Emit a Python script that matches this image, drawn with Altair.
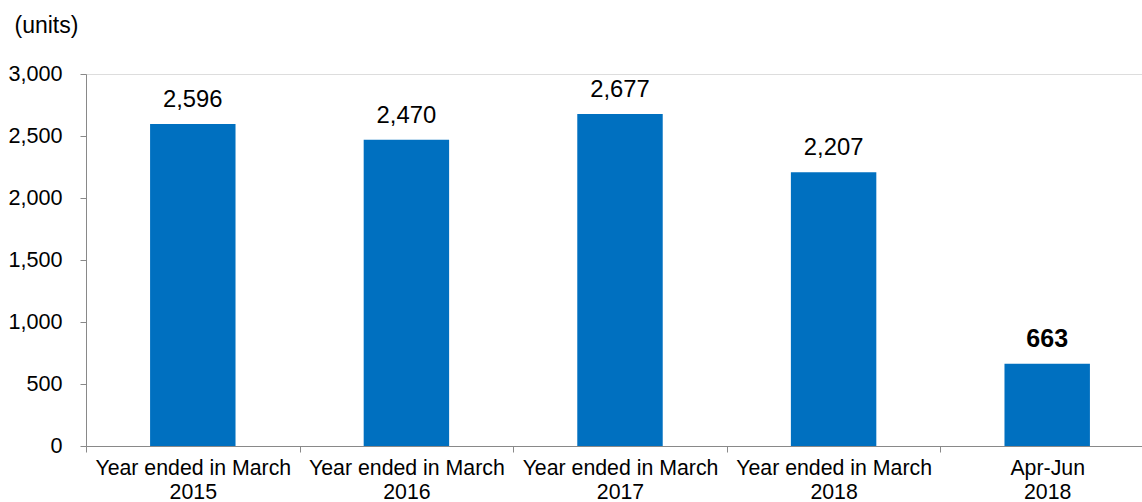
import altair as alt
import pandas as pd

categories = ["Year ended in March\n2015", "Year ended in March\n2016", "Year ended in March\n2017",
              "Year ended in March\n2018", "Apr-Jun\n2018"]
values = [2596, 2470, 2677, 2207, 663]
bold_flags = [False, False, False, False, True]
y_ticks = [0, 500, 1000, 1500, 2000, 2500, 3000]

df = pd.DataFrame({"cat": categories, "units": values, "bold": bold_flags})

FONT = "Liberation Sans"

x = alt.X("cat:N", sort=categories, title=None,
          scale=alt.Scale(paddingInner=0, paddingOuter=0, range=[0, 1068]),
          axis=alt.Axis(labelAngle=0, labelFontSize=21.3, labelFont=FONT, labelColor="black",
                        labelExpr="split(datum.label, '\\n')", labelLineHeight=24,
                        labelPadding=5, tickBand="extent", tickSize=6,
                        tickColor="#898989", domainColor="#898989", labelLimit=0))
y = alt.Y("units:Q", title="(units)",
          scale=alt.Scale(domain=[0, 3000], nice=False),
          axis=alt.Axis(values=y_ticks, format=",d", grid=False,
                        labelFontSize=21.6, labelFont=FONT, labelColor="black", labelPadding=18,
                        tickSize=6, tickColor="#898989", domainColor="#898989",
                        titleAngle=0, titleX=-72, titleY=-42, titleAlign="left",
                        titleBaseline="alphabetic", titleFont=FONT, titleFontSize=23,
                        titleFontWeight="normal", titleColor="black"))

bars = alt.Chart(df).mark_bar(color="#0070C0", width=alt.RelativeBandSize(0.4)).encode(x=x, y=y)
labels = alt.Chart(df).transform_filter("!datum.bold").mark_text(
    dy=-17, baseline="alphabetic", fontSize=23.8, font=FONT, color="black").encode(
    x=alt.X("cat:N", sort=categories), y="units:Q", text=alt.Text("units:Q", format=",d"))
labels_b = alt.Chart(df).transform_filter("datum.bold").mark_text(
    dy=-17, baseline="alphabetic", fontSize=25, font=FONT, color="black", fontWeight="bold").encode(
    x=alt.X("cat:N", sort=categories), y="units:Q", text=alt.Text("units:Q", format=",d"))

chart = (bars + labels + labels_b).properties(
    width=1056, height=372,
    autosize=alt.AutoSizeParams(type="none"),
    padding={"left": 86, "top": 74, "right": 0, "bottom": 56},
).configure_view(stroke=None).configure(background="white")

chart.save("out.html", embed_options={"renderer": "svg", "actions": False})
